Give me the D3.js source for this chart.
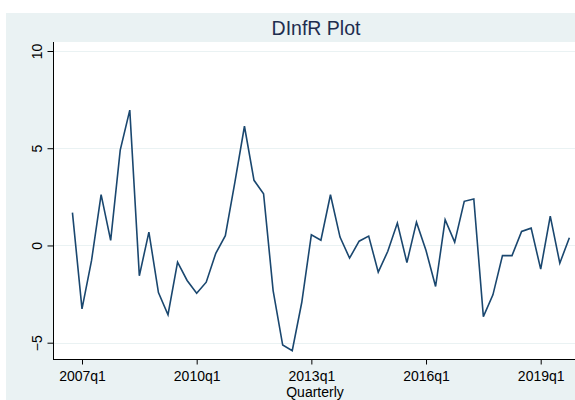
<!DOCTYPE html>
<html>
<head>
<meta charset="utf-8">
<script src="https://cdn.jsdelivr.net/npm/d3@7/dist/d3.min.js"></script>
<style>
  body { margin: 0; background: #ffffff; }
  svg { display: block; font-family: "Liberation Sans", Arial, sans-serif; }
</style>
</head>
<body>
<div id="chart"></div>
<script>

// Data (quarterly, 2006q4 - 2019q4)
var quarters = [
  "2006q4",
  "2007q1", "2007q2", "2007q3", "2007q4",
  "2008q1", "2008q2", "2008q3", "2008q4",
  "2009q1", "2009q2", "2009q3", "2009q4",
  "2010q1", "2010q2", "2010q3", "2010q4",
  "2011q1", "2011q2", "2011q3", "2011q4",
  "2012q1", "2012q2", "2012q3", "2012q4",
  "2013q1", "2013q2", "2013q3", "2013q4",
  "2014q1", "2014q2", "2014q3", "2014q4",
  "2015q1", "2015q2", "2015q3", "2015q4",
  "2016q1", "2016q2", "2016q3", "2016q4",
  "2017q1", "2017q2", "2017q3", "2017q4",
  "2018q1", "2018q2", "2018q3", "2018q4",
  "2019q1", "2019q2", "2019q3", "2019q4"
];

var dinfr = [
  1.69,
  -3.26, -0.77, 2.61, 0.26,
  4.90, 6.96, -1.56, 0.69,
  -2.42, -3.56, -0.86, -1.80,
  -2.46, -1.89, -0.40, 0.50,
  3.26, 6.13, 3.35, 2.66,
  -2.32, -5.12, -5.41, -2.92,
  0.55, 0.27, 2.61, 0.43,
  -0.65, 0.22, 0.48, -1.37,
  -0.30, 1.15, -0.88, 1.20,
  -0.26, -2.11, 1.32, 0.17,
  2.27, 2.39, -3.66, -2.54,
  -0.52, -0.52, 0.72, 0.89,
  -1.22, 1.51, -0.91, 0.40
];

var xTickLabels = ["2007q1", "2010q1", "2013q1", "2016q1", "2019q1"];
var yTickValues = [-5, 0, 5, 10];

// quarter label -> number of quarters since 2007q1
function quarterIndex(label) {
  var year = +label.slice(0, 4);
  var q = +label.slice(5);
  return (year - 2007) * 4 + (q - 1);
}

// Exposed variables
var attrs = {
  svgWidth: 575,
  svgHeight: 400,
  bgColor: "#eaf2f3",
  lineColor: "#1a476f",
  titleColor: "#1e2d4f",
  plotLeft: 53,
  plotRight: 575,
  plotTop: 42,
  plotBottom: 359
};

//Scales
var scales = {};
scales.x = d3.scaleLinear().domain([0, 48]).range([82, 540.7]);
scales.y = d3.scaleLinear().domain([-5, 10]).range([342.7, 51]);

var series = quarters.map(function (d, i) {
  return { q: quarterIndex(d), value: dinfr[i] };
});

//Add svg
var svg = d3.select("#chart").append("svg")
  .attr("width", attrs.svgWidth)
  .attr("height", attrs.svgHeight);

// outer graph region
svg.append("rect")
  .attr("x", 6).attr("y", 13)
  .attr("width", attrs.svgWidth - 6)
  .attr("height", attrs.svgHeight - 13)
  .attr("fill", attrs.bgColor);

// plot region
svg.append("rect")
  .attr("x", attrs.plotLeft).attr("y", attrs.plotTop)
  .attr("width", attrs.plotRight - attrs.plotLeft)
  .attr("height", attrs.plotBottom - attrs.plotTop)
  .attr("fill", "#ffffff");

// grid lines
svg.append("g").selectAll("line")
  .data(yTickValues)
  .enter().append("line")
  .attr("x1", attrs.plotLeft)
  .attr("x2", attrs.plotRight)
  .attr("y1", function (d) { return Math.round(scales.y(d)) + 0.5; })
  .attr("y2", function (d) { return Math.round(scales.y(d)) + 0.5; })
  .attr("stroke", attrs.bgColor)
  .attr("stroke-width", 1.2);

// data line
var line = d3.line()
  .x(function (d) { return scales.x(d.q); })
  .y(function (d) { return scales.y(d.value); });

svg.append("path")
  .datum(series)
  .attr("d", line)
  .attr("fill", "none")
  .attr("stroke", attrs.lineColor)
  .attr("stroke-width", 1.6)
  .attr("stroke-linejoin", "miter");

// y axis
var yAxis = svg.append("g")
  .attr("transform", "translate(" + (attrs.plotLeft + 0.5) + ",0)")
  .call(d3.axisLeft(scales.y).tickValues(yTickValues).tickSize(6).tickSizeOuter(0).tickFormat(d3.format("d")));

yAxis.select(".domain").remove();
yAxis.append("line")
  .attr("y1", attrs.plotTop).attr("y2", attrs.plotBottom)
  .attr("stroke", "#000");

yAxis.selectAll(".tick line").attr("stroke", "#000");
yAxis.selectAll(".tick text")
  .attr("x", null).attr("dy", null)
  .attr("transform", "translate(-12,0) rotate(-90)")
  .attr("text-anchor", "middle")
  .attr("fill", "#000")
  .style("font-size", "14px");

// x axis
var xAxis = svg.append("g")
  .attr("transform", "translate(0," + (attrs.plotBottom + 0.5) + ")")
  .call(d3.axisBottom(scales.x)
    .tickValues(xTickLabels.map(quarterIndex))
    .tickFormat(function (d, i) { return xTickLabels[i]; })
    .tickSize(5).tickSizeOuter(0));

xAxis.select(".domain").remove();
xAxis.append("line")
  .attr("x1", attrs.plotLeft).attr("x2", attrs.plotRight)
  .attr("stroke", "#000");

xAxis.selectAll(".tick line").attr("stroke", "#000");
xAxis.selectAll(".tick text")
  .attr("y", 21).attr("dy", null)
  .attr("fill", "#000")
  .style("font-size", "14px");

// axis title
svg.append("text")
  .attr("x", 315).attr("y", 397)
  .attr("text-anchor", "middle")
  .attr("fill", "#000")
  .style("font-size", "14px")
  .text("Quarterly");

// chart title
svg.append("text")
  .attr("x", 316).attr("y", 35)
  .attr("text-anchor", "middle")
  .attr("fill", attrs.titleColor)
  .style("font-size", "19.5px")
  .text("DInfR Plot");

</script>
</body>
</html>
